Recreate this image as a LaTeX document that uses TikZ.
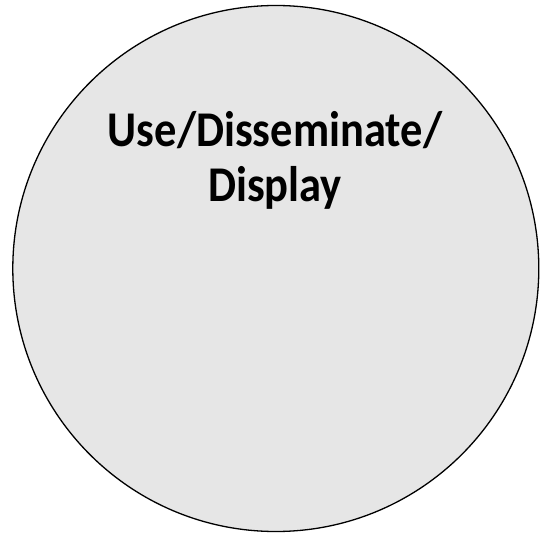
\documentclass[tikz,border=0pt]{standalone}
\usepackage{fontspec}
\setmainfont{Carlito}
\newfontfamily\labelfont[FakeStretch=0.89]{Carlito}
\definecolor{circfill}{HTML}{E6E6E6}
\begin{document}
\begin{tikzpicture}[x=1pt,y=1pt,
  bigcircle/.style={circle,draw=black,line width=1.3pt,fill=circfill,minimum size=526pt,inner sep=0pt},
  labeltext/.style={font=\labelfont\fontsize{50}{55}\selectfont\bfseries,anchor=base,inner sep=0pt}]
\useasboundingbox (0,0) rectangle (540,536);
\node[bigcircle] (c) at (275.8,267.5) {};
\node[labeltext] (l1) at (275,389) {Use/Disseminate/};
\node[labeltext] (l2) at (275,334) {Display};
\end{tikzpicture}
\end{document}
